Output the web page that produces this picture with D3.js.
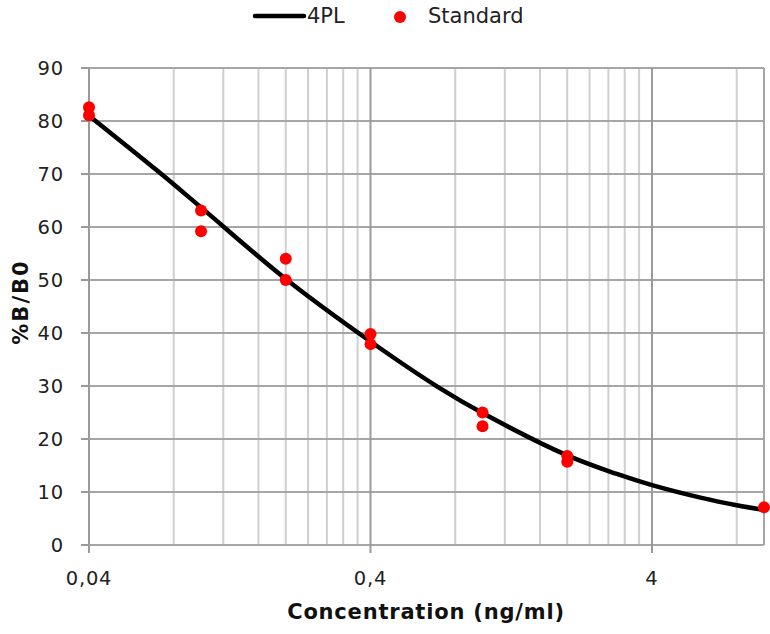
<!DOCTYPE html>
<html>
<head>
<meta charset="utf-8">
<script src="https://cdn.jsdelivr.net/npm/d3@7"></script>
<style>
  body { margin: 0; background: #fff; }
  svg { font-family: 'DejaVu Sans', Verdana, sans-serif; }
  .tick-label { font-size: 19.5px; fill: #222; letter-spacing: 0.8px; }
</style>
</head>
<body>
<svg class="chart" width="770" height="634"></svg>
<script>
// standards (concentration in ng/ml, %B/B0), duplicates
var stdConc = [0.04, 0.04, 0.1, 0.1, 0.2, 0.2, 0.4, 0.4, 1, 1, 2, 2, 10]
var stdValue = [82.6, 81.1, 63.1, 59.2, 54.0, 50.0, 39.8, 37.9, 25.0, 22.4, 16.8, 15.7, 7.1]

// 4PL curve
var fitConc = [0.04, 0.07, 0.1, 0.2, 0.4, 0.7, 1, 2, 3, 4, 6, 8, 10]
var fitValue = [81, 70.6, 63.7, 50.2, 38.4, 29.7, 24.9, 16.9, 13.4, 11.3, 8.9, 7.5, 6.6]

var xMajor = [0.04, 0.4, 4]
var xMajorLabels = ['0,04', '0,4', '4']
var yTicks = [0, 10, 20, 30, 40, 50, 60, 70, 80, 90]

var plotLeft = 89, plotRight = 764, plotTop = 68, plotBottom = 545
var svg = d3.select('.chart')

var x = d3.scaleLog().domain([0.04, 10]).range([plotLeft, plotRight])
var y = d3.scaleLinear().domain([0, 90]).range([plotBottom, plotTop])

// minor grid: k * 0.04 * 10^n
var xMinor = []
xMajor.forEach(function(m) {
  for (var k = 2; k <= 9; k++) {
    if (m * k < 10) xMinor.push(m * k)
  }
})

var grid = svg.append('g')

grid.selectAll('.minor')
  .data(xMinor)
  .enter()
  .append('line')
  .attr('x1', d => x(d))
  .attr('x2', d => x(d))
  .attr('y1', plotTop)
  .attr('y2', plotBottom)
  .attr('stroke', '#cfcfcf')
  .attr('stroke-width', 2)

grid.selectAll('.hline')
  .data(yTicks)
  .enter()
  .append('line')
  .attr('x1', plotLeft)
  .attr('x2', plotRight)
  .attr('y1', d => y(d))
  .attr('y2', d => y(d))
  .attr('stroke', '#a6a6a6')
  .attr('stroke-width', 2)

grid.selectAll('.major')
  .data(xMajor)
  .enter()
  .append('line')
  .attr('x1', d => x(d))
  .attr('x2', d => x(d))
  .attr('y1', plotTop)
  .attr('y2', plotBottom + 8)
  .attr('stroke', '#9a9a9a')
  .attr('stroke-width', 2)

// right border
grid.append('line')
  .attr('x1', plotRight).attr('x2', plotRight)
  .attr('y1', plotTop).attr('y2', plotBottom)
  .attr('stroke', '#a6a6a6')
  .attr('stroke-width', 2)

// y axis ticks + labels
var yAxis = svg.append('g')
yAxis.selectAll('line')
  .data(yTicks)
  .enter()
  .append('line')
  .attr('x1', plotLeft - 8)
  .attr('x2', plotLeft)
  .attr('y1', d => y(d))
  .attr('y2', d => y(d))
  .attr('stroke', '#9a9a9a')
  .attr('stroke-width', 2)

yAxis.selectAll('text')
  .data(yTicks)
  .enter()
  .append('text')
  .attr('class', 'tick-label')
  .attr('x', 64)
  .attr('y', d => y(d))
  .attr('dy', '0.35em')
  .attr('text-anchor', 'end')
  .text(d => d)

svg.selectAll('.xlab')
  .data(xMajor)
  .enter()
  .append('text')
  .attr('class', 'tick-label')
  .attr('x', d => x(d))
  .attr('y', 578)
  .attr('dy', '0.35em')
  .attr('text-anchor', 'middle')
  .text((d, i) => xMajorLabels[i])

// 4PL line
var line = d3.line()
  .x(d => x(d[0]))
  .y(d => y(d[1]))
  .curve(d3.curveCatmullRom.alpha(0.5))

svg.append('path')
  .datum(fitConc.map((c, i) => [c, fitValue[i]]))
  .attr('d', line)
  .attr('fill', 'none')
  .attr('stroke', '#000')
  .attr('stroke-width', 4.5)

// standards
svg.selectAll('.pt')
  .data(stdConc)
  .enter()
  .append('circle')
  .attr('cx', d => x(d))
  .attr('cy', (d, i) => y(stdValue[i]))
  .attr('r', 6)
  .attr('fill', '#ff0000')

// axis titles
svg.append('text')
  .attr('x', 426)
  .attr('y', 612)
  .attr('dy', '0.35em')
  .attr('text-anchor', 'middle')
  .attr('font-size', 21)
  .attr('font-weight', 'bold')
  .attr('letter-spacing', 0.8)
  .attr('fill', '#111')
  .text('Concentration  (ng/ml)')

svg.append('text')
  .attr('transform', 'translate(21,302) rotate(-90)')
  .attr('dy', '0.35em')
  .attr('text-anchor', 'middle')
  .attr('font-size', 21)
  .attr('font-weight', 'bold')
  .attr('letter-spacing', 2)
  .attr('fill', '#111')
  .text('%B/B0')

// legend
var legend = svg.append('g')
legend.append('line')
  .attr('x1', 255).attr('x2', 304)
  .attr('y1', 16).attr('y2', 16)
  .attr('stroke', '#000')
  .attr('stroke-width', 4.5)
  .attr('stroke-linecap', 'round')
legend.append('text')
  .attr('x', 307).attr('y', 16).attr('dy', '0.35em')
  .attr('font-size', 21).attr('fill', '#222')
  .text('4PL')
legend.append('circle')
  .attr('cx', 400).attr('cy', 17).attr('r', 6)
  .attr('fill', '#ff0000')
legend.append('text')
  .attr('x', 428).attr('y', 16).attr('dy', '0.35em')
  .attr('font-size', 21).attr('fill', '#222')
  .text('Standard')
</script>
</body>
</html>
